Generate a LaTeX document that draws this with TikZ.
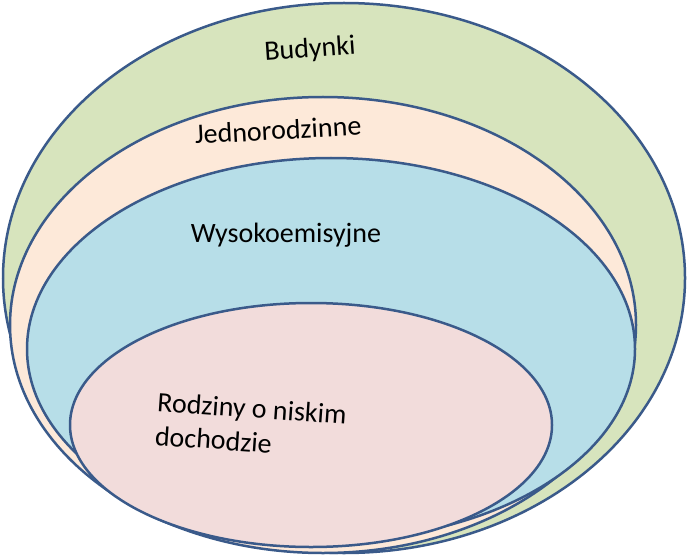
\documentclass[tikz,border=0pt]{standalone}
\usepackage{fontspec}
\setmainfont{Carlito}
\begin{document}
\begin{tikzpicture}[x=1pt,y=-1pt,
  ell/.style={draw=bordc,line width=2.5pt},
  lbl/.style={font=\fontsize{28}{34}\selectfont,text=black}]
\definecolor{bordc}{HTML}{3A5A8A}
\useasboundingbox (0,0) rectangle (687,556);
\draw[ell,fill={rgb,255:red,215;green,228;blue,189}] (344,278) ellipse [x radius=341,y radius=275];
\draw[ell,fill={rgb,255:red,253;green,233;blue,217}] (323,325) ellipse [x radius=313,y radius=228];
\draw[ell,fill={rgb,255:red,183;green,222;blue,232}] (331,349) ellipse [x radius=304,y radius=191];
\draw[ell,fill={rgb,255:red,242;green,220;blue,219}] (311,425) ellipse [x radius=241,y radius=122];
\node[lbl,rotate=4] (b) at (310,50) {Budynki};
\node[lbl,rotate=3] (j) at (278,130) {Jednorodzinne};
\node[lbl] (w) at (286,235) {Wysokoemisyjne};
\node[lbl,rotate=-4,align=left,anchor=north west] (r) at (155,388) {Rodziny o niskim\\dochodzie};
\end{tikzpicture}
\end{document}
